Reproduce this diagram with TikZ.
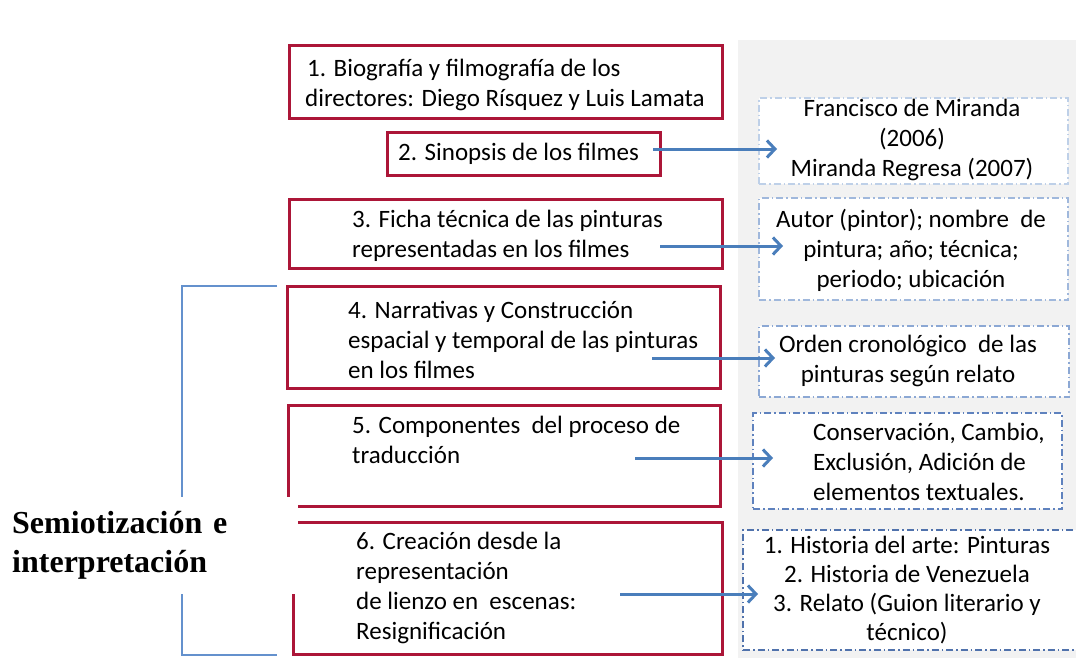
\documentclass[tikz,border=0pt]{standalone}
\usepackage{fontspec}
\setmainfont{Carlito}
\newfontfamily\lblfont{Liberation Serif}
\usetikzlibrary{arrows.meta}
\definecolor{boxred}{RGB}{172,22,56}
\definecolor{arrblue}{RGB}{74,126,187}
\definecolor{brblue}{RGB}{100,145,205}
\definecolor{bggray}{RGB}{242,242,242}
\definecolor{dA}{RGB}{190,208,232}
\definecolor{dB}{RGB}{160,184,220}
\definecolor{dC}{RGB}{140,168,212}
\definecolor{dD}{RGB}{95,130,190}
\definecolor{dE}{RGB}{80,114,172}
\tikzset{
  redbox/.style={draw=boxred, line width=3pt, fill=white, inner sep=0pt},
  dbox/.style={line width=1.1pt, fill=white, inner sep=0pt, dash pattern=on 7pt off 3pt on 1.5pt off 3pt},
  txt/.style={inner sep=0pt, font=\fontsize{25}{30}\selectfont, text=black},
  arr/.style={draw=arrblue, line width=3pt, -{Straight Barb[length=8pt,width=17pt]}},
  bracket/.style={draw=brblue, line width=1.5pt}
}
\begin{document}
\begin{tikzpicture}[x=1pt,y=-1pt]
\useasboundingbox (0,0) rectangle (1076,669);
\fill[bggray] (738,40) rectangle (1076,658);

% bracket
\coordinate (brT) at (277,286);
\coordinate (brB) at (277,655);
\draw[bracket] (brT) -- (182,286) -- (182,655) -- (brB);

% red boxes
\node[redbox, minimum width=433pt, minimum height=72pt] (b1) at (505.5,82) {};
\node[redbox, minimum width=273pt, minimum height=43pt] (b2) at (523.5,153.5) {};
\node[redbox, minimum width=433pt, minimum height=69pt] (b3) at (505.5,233.5) {};
\node[redbox, minimum width=433pt, minimum height=102pt] (b4) at (503.5,337) {};
\node[redbox, minimum width=432pt, minimum height=101pt] (b5) at (504,455.5) {};
\node[redbox, minimum width=429pt, minimum height=132pt] (b6) at (507.5,588) {};

% texts in red boxes
\node[txt, anchor=west, align=left] (t1) at (305,85) {\hspace{2pt}1. Biografía y filmografía de los\\directores: Diego Rísquez y Luis Lamata};
\node[txt, anchor=west] (t2) at (398,154) {2. Sinopsis de los filmes};
\node[txt, anchor=west, align=left] (t3) at (352,236) {3. Ficha técnica de las pinturas\\representadas en los filmes};
\node[txt, anchor=west, align=left] (t4) at (348,340) {4. Narrativas y Construcción\\espacial y temporal de las pinturas\\en los filmes};
\node[txt, anchor=west, align=left] (t5) at (352,440) {5. Componentes\ \ del proceso de\\traducción};
\node[txt, anchor=west, align=left] (t6) at (356,588) {6. Creación desde la\\representación\\de lienzo en\ \ escenas:\\Resignificación};

% right dashed boxes
\node[dbox, draw=dA, minimum width=309pt, minimum height=86pt] (r2) at (913.5,141) {};
\node[dbox, draw=dB, minimum width=309pt, minimum height=102pt] (r3) at (913.5,249) {};
\node[dbox, draw=dC, minimum width=310pt, minimum height=71pt] (r4) at (914,361.5) {};
\node[dbox, draw=dD, minimum width=309pt, minimum height=96pt] (r5) at (907.5,461) {};
\node[dbox, draw=dE, minimum width=337pt, minimum height=120pt] (r6) at (911.5,590) {};

\node[txt, align=center] (s2) at (912,140) {Francisco de Miranda\\(2006)\\Miranda Regresa (2007)};
\node[txt, align=center] (s3) at (911,250) {Autor (pintor); nombre\ \ de\\pintura; año; técnica;\\periodo; ubicación};
\node[txt, align=center] (s4) at (908,361) {Orden cronológico\ \ de las\\pinturas según relato};
\node[txt, anchor=west, align=left] (s5) at (813,462) {Conservación, Cambio,\\Exclusión, Adición de\\elementos textuales.};
\node[txt, align=center, font=\fontsize{25}{29}\selectfont] (s6) at (907,590) {1. Historia del arte: Pinturas\\2. Historia de Venezuela\\3. Relato (Guion literario y\\técnico)};

% arrows
\coordinate (a2s) at (653,149); \coordinate (a2e) at (777,149);
\coordinate (a3s) at (660,246); \coordinate (a3e) at (783,246);
\coordinate (a4s) at (652,358); \coordinate (a4e) at (775,358);
\coordinate (a5s) at (635,458); \coordinate (a5e) at (773,458);
\coordinate (a6s) at (620,594); \coordinate (a6e) at (758,594);
\draw[arr] (a2s) -- (a2e);
\draw[arr] (a3s) -- (a3e);
\draw[arr] (a4s) -- (a4e);
\draw[arr] (a5s) -- (a5e);
\draw[arr] (a6s) -- (a6e);

% label with white background
\node[fill=white, anchor=north west, minimum width=297.5pt, minimum height=97.5pt,
      inner xsep=12pt, inner ysep=0pt, text width=273.5pt, align=left,
      font=\lblfont\bfseries\fontsize{32}{39}\selectfont] (lab) at (0,496.5)
      {Semiotización e\\interpretación};
\end{tikzpicture}
\end{document}
